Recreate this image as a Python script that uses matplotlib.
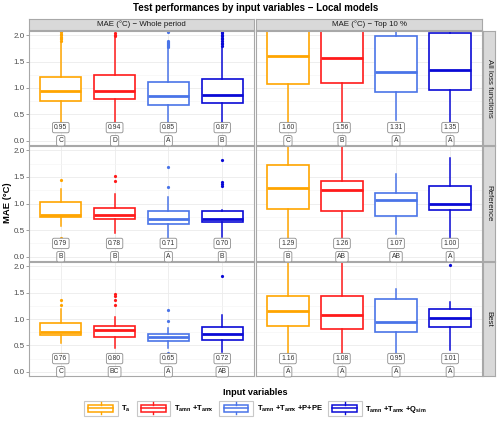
import matplotlib
matplotlib.use("Agg")
import matplotlib.pyplot as plt
from matplotlib.patches import Rectangle, Patch
from matplotlib.lines import Line2D
from matplotlib.legend_handler import HandlerBase

plt.rcParams['font.family'] = ['Liberation Sans', 'DejaVu Sans']
plt.rcParams['mathtext.fontset'] = 'custom'
plt.rcParams['mathtext.bf'] = 'Liberation Sans:bold'
plt.rcParams['mathtext.rm'] = 'Liberation Sans:bold'
plt.rcParams['mathtext.default'] = 'bf'

# data
periods = ["MAE (°C) − Whole period", "MAE (°C) − Top 10 %"]
losses = ["All loss functions", "Reference", "Best"]
groups = [r"T$_{a}$", r"T$_{amn}$ +T$_{amx}$", r"T$_{amn}$ +T$_{amx}$ +P+PE",
          r"T$_{amn}$ +T$_{amx}$ +Q$_{sim}$"]
colors = ["#FFA500", "#FF1A1A", "#4A74E8", "#0A0AD6"]

# whole period: one list per loss-function row, one value per input set
med_whole = [[0.95, 0.94, 0.85, 0.87], [0.79, 0.78, 0.71, 0.70], [0.76, 0.80, 0.65, 0.72]]
q1_whole = [[0.76, 0.79, 0.67, 0.71], [0.75, 0.70, 0.61, 0.65], [0.69, 0.66, 0.59, 0.61]]
q3_whole = [[1.21, 1.25, 1.11, 1.17], [1.03, 0.92, 0.85, 0.85], [0.92, 0.87, 0.72, 0.85]]
lo_whole = [[0.30, 0.30, 0.30, 0.30], [0.57, 0.44, 0.33, 0.38], [0.55, 0.46, 0.46, 0.37]]
hi_whole = [[1.87, 1.94, 1.75, 1.78], [1.27, 1.18, 1.12, 0.88], [1.19, 1.03, 0.83, 1.08]]
out_whole = [
    [[1.90, 1.92, 1.95, 1.97, 2.00, 2.03, 2.06], [1.98, 2.01, 2.05],
     [1.78, 1.80, 1.82, 1.84, 1.86, 1.88, 1.90, 2.06],
     [1.80, 1.83, 1.86, 1.89, 1.92, 1.95, 1.98, 2.01, 2.04, 2.07]],
    [[0.36, 1.44], [1.43, 1.51], [1.31, 1.68], [1.32, 1.37, 1.40, 1.82]],
    [[0.34, 1.27, 1.36], [1.26, 1.36, 1.43, 1.47], [0.36, 0.97, 1.17], [1.82]],
]
let_whole = [["C", "D", "A", "B"], ["B", "B", "A", "B"], ["C", "BC", "A", "AB"]]

# top 10 %
med_top = [[1.60, 1.56, 1.31, 1.35], [1.29, 1.26, 1.07, 1.00], [1.16, 1.08, 0.95, 1.01]]
q1_top = [[1.07, 1.09, 0.93, 0.96], [0.89, 0.85, 0.77, 0.88], [0.87, 0.82, 0.745, 0.84]]
q3_top = [[2.30, 2.25, 1.99, 2.04], [1.73, 1.42, 1.19, 1.32], [1.43, 1.43, 1.38, 1.19]]
lo_top = [[0.30, 0.30, 0.40, 0.36], [0.30, 0.30, 0.42, 0.36], [0.30, 0.30, 0.33, 0.41]]
hi_top = [[3.00, 3.00, 2.60, 2.60], [2.50, 2.50, 1.56, 1.85], [2.50, 2.50, 1.57, 1.325]]
out_top = [[[], [], [], []], [[], [], [], []], [[], [], [], [2.03]]]
let_top = [["C", "B", "A", "A"], ["B", "AB", "AB", "A"], ["A", "A", "A", "A"]]

W, H = 500, 426


def px_rect(x0, y0, x1, y1):
    return [x0 / W, 1 - y1 / H, (x1 - x0) / W, (y1 - y0) / H]


fig = plt.figure(figsize=(W / 100, H / 100), dpi=100)

col_x = [(29, 254), (256, 482)]
row_y = [(31, 145), (146, 261), (262, 376)]
border = "#A8A8A8"
strip_fc = "#D9D9D9"

tables = [
    (med_whole, q1_whole, q3_whole, lo_whole, hi_whole, out_whole, let_whole),
    (med_top, q1_top, q3_top, lo_top, hi_top, out_top, let_top),
]

for c, (x0, x1) in enumerate(col_x):
    med, q1, q3, lo, hi, outs, lets = tables[c]
    for r, (y0, y1) in enumerate(row_y):
        ax = fig.add_axes(px_rect(x0, y0, x1, y1))
        for g in range(4):
            col = colors[g]
            st = dict(med=med[r][g], q1=q1[r][g], q3=q3[r][g],
                      whislo=lo[r][g], whishi=hi[r][g], fliers=outs[r][g])
            ax.bxp([st], positions=[g + 1], widths=0.77, showcaps=False,
                   patch_artist=True,
                   boxprops=dict(facecolor="white", edgecolor=col, linewidth=1.2),
                   medianprops=dict(color=col, linewidth=2.0),
                   whiskerprops=dict(color=col, linewidth=1.1),
                   flierprops=dict(marker="o", markersize=2.3, markerfacecolor=col,
                                   markeredgecolor=col, markeredgewidth=0))
            ax.text(g + 1, 0.25, f"{med[r][g]:.2f}", ha="center", va="center",
                    fontsize=4.9, color="#333333", zorder=5,
                    bbox=dict(boxstyle="round,pad=0.25", fc="white", ec="#8C8C8C", lw=0.6))
            ax.text(g + 1, 0.0, lets[r][g], ha="center", va="center",
                    fontsize=4.9, color="#333333", zorder=5,
                    bbox=dict(boxstyle="round,pad=0.25", fc="white", ec="#8C8C8C", lw=0.6))
        ax.set_xlim(0.41, 4.59)
        ax.set_ylim(-0.08, 2.08)
        ax.set_yticks([0, 0.5, 1.0, 1.5, 2.0])
        ax.set_yticks([0.25, 0.75, 1.25, 1.75], minor=True)
        ax.set_xticks([1, 2, 3, 4])
        ax.grid(True, which="major", color="#EBEBEB", linewidth=0.6, zorder=0)
        ax.grid(True, which="minor", axis="y", color="#F4F4F4", linewidth=0.4, zorder=0)
        ax.set_axisbelow(True)
        ax.tick_params(axis="x", length=0, labelbottom=False)
        ax.tick_params(axis="y", which="minor", length=0)
        if c == 0:
            ax.tick_params(axis="y", length=2, width=0.5, color="#777777",
                           labelsize=5.8, labelcolor="#4D4D4D", pad=1)
            ax.set_yticklabels(["0.0", "0.5", "1.0", "1.5", "2.0"])
        else:
            ax.tick_params(axis="y", length=0, labelleft=False)
        for s in ax.spines.values():
            s.set_color(border)
            s.set_linewidth(0.8)

    # top strip
    sax = fig.add_axes(px_rect(x0, 19, x1, 30))
    sax.set_facecolor(strip_fc)
    sax.set_xticks([])
    sax.set_yticks([])
    for s in sax.spines.values():
        s.set_color(border)
        s.set_linewidth(0.8)
    sax.text(0.5, 0.5, periods[c], ha="center", va="center", fontsize=5.7,
             color="#1A1A1A", transform=sax.transAxes)

for r, (y0, y1) in enumerate(row_y):
    sax = fig.add_axes(px_rect(483, y0, 495, y1))
    sax.set_facecolor(strip_fc)
    sax.set_xticks([])
    sax.set_yticks([])
    for s in sax.spines.values():
        s.set_color(border)
        s.set_linewidth(0.8)
    sax.text(0.5, 0.5, losses[r], ha="center", va="center", fontsize=5.7,
             rotation=-90, color="#1A1A1A", transform=sax.transAxes)

fig.text(255.5 / W, 1 - 8 / H, "Test performances by input variables − Local models",
         ha="center", va="center", fontsize=7.0, fontweight="bold")
fig.text(8 / W, 1 - 203 / H, "MAE (°C)", ha="center", va="center", rotation=90,
         fontsize=6.8, fontweight="bold")


class BoxKey(HandlerBase):
    def create_artists(self, legend, orig_handle, xdescent, ydescent, width, height,
                       fontsize, trans):
        col = orig_handle.get_edgecolor()
        x0, y0 = -xdescent, -ydescent
        frame = Rectangle((x0, y0), width, height, fc="white", ec="#C8C8C8", lw=0.8,
                          transform=trans)
        box = Rectangle((x0 + 0.13 * width, y0 + 0.3 * height), 0.74 * width, 0.4 * height,
                        fc="white", ec=col, lw=1.1, transform=trans)
        mid = Line2D([x0 + 0.13 * width, x0 + 0.87 * width], [y0 + 0.5 * height] * 2,
                     color=col, lw=1.1, transform=trans)
        wl = Line2D([x0 + 0.5 * width] * 2, [y0 + 0.12 * height, y0 + 0.3 * height],
                    color=col, lw=1.0, transform=trans)
        wh = Line2D([x0 + 0.5 * width] * 2, [y0 + 0.7 * height, y0 + 0.88 * height],
                    color=col, lw=1.0, transform=trans)
        return [frame, box, mid, wl, wh]


handles = [Patch(facecolor="white", edgecolor=col) for col in colors]
leg = fig.legend(handles, groups, loc="center", bbox_to_anchor=(255.5 / W, 1 - 402 / H),
                 ncol=4, frameon=False, fontsize=5.5, handlelength=4.4, handleheight=2.8,
                 handletextpad=0.5, columnspacing=0.7,
                 title="Input variables",
                 title_fontproperties={"weight": "bold", "size": 6.6},
                 handler_map={Patch: BoxKey()})
for t in leg.get_texts():
    t.set_fontweight("bold")

fig.savefig("out.png", dpi=100)
